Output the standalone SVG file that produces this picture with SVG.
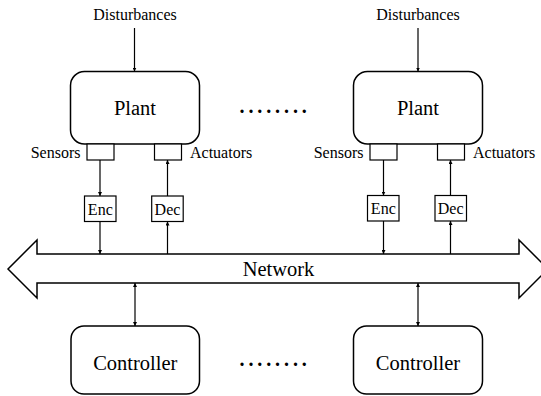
<svg xmlns="http://www.w3.org/2000/svg" width="541" height="396" viewBox="0 0 541 396" font-family="'Liberation Serif', 'Times New Roman', Times, serif">
<style>
text{font-family:"Liberation Serif","Times New Roman",Times,serif;fill:#000}
.big{font-size:20.5px;text-anchor:middle}
.lbl{font-size:16px}
.mid{text-anchor:middle}
.box{fill:#fff;stroke:#000;stroke-width:1.5}
.sm{fill:#fff;stroke:#000;stroke-width:1.2}
.conn line{stroke:#000;stroke-width:1.2}
.dots{font-size:20px;font-weight:bold;letter-spacing:3.9px}
</style>
<defs>
<marker id="ah" viewBox="0 0 8 8" refX="8" refY="4" markerWidth="4" markerHeight="4" orient="auto-start-reverse" markerUnits="userSpaceOnUse">
<path d="M0,0 L8,4 L0,8 Z" fill="#000"/>
</marker>
</defs>
<g id="network">
<path d="M8,269 L37,240 L37,254 L519,254 L519,240 L548,269 L519,298 L519,283 L37,283 L37,298 Z" fill="#fff" stroke="#000" stroke-width="1.5" stroke-linejoin="miter"/>
<text class="big" x="278.5" y="276">Network</text>
</g>
<g id="plant1">
<rect class="box" x="70.5" y="71.5" width="129" height="72.5" rx="14"/>
<text class="big" x="135" y="115">Plant</text>
</g>
<g id="plant2">
<rect class="box" x="353.5" y="71.5" width="129" height="72.5" rx="14"/>
<text class="big" x="418" y="115">Plant</text>
</g>
<g id="dist1"><text class="lbl mid" x="135" y="20">Disturbances</text></g>
<g id="dist2"><text class="lbl mid" x="418" y="20">Disturbances</text></g>
<g id="sensor1">
<rect class="sm" x="87" y="144" width="27" height="16"/>
<text class="lbl" x="80.5" y="158" text-anchor="end">Sensors</text>
</g>
<g id="actuator1">
<rect class="sm" x="154.5" y="144" width="27" height="16"/>
<text class="lbl" x="190" y="158">Actuators</text>
</g>
<g id="sensor2">
<rect class="sm" x="370" y="144" width="27" height="16"/>
<text class="lbl" x="363.5" y="158" text-anchor="end">Sensors</text>
</g>
<g id="actuator2">
<rect class="sm" x="437.5" y="144" width="27" height="16"/>
<text class="lbl" x="473" y="158">Actuators</text>
</g>
<g id="enc1">
<rect class="sm" x="84.5" y="196" width="31.5" height="25.5"/>
<text class="lbl mid" x="100.3" y="214.5">Enc</text>
</g>
<g id="dec1">
<rect class="sm" x="151.7" y="196" width="31.5" height="25.5"/>
<text class="lbl mid" x="167.5" y="214.5">Dec</text>
</g>
<g id="enc2">
<rect class="sm" x="367.5" y="195.5" width="31.5" height="25.5"/>
<text class="lbl mid" x="383.3" y="214">Enc</text>
</g>
<g id="dec2">
<rect class="sm" x="435" y="195.5" width="31.5" height="25.5"/>
<text class="lbl mid" x="450.7" y="214">Dec</text>
</g>
<g id="controller1">
<rect class="box" x="71" y="326" width="128.5" height="68" rx="13"/>
<text class="big" x="135.3" y="369.5">Controller</text>
</g>
<g id="controller2">
<rect class="box" x="353.5" y="326" width="129" height="68" rx="13"/>
<text class="big" x="418" y="369.5">Controller</text>
</g>
<g id="ellipsis">
<text class="dots" x="239.5" y="113">........</text>
<text class="dots" x="239.5" y="366">........</text>
</g>
<g class="conn" id="connectors">
<line x1="134.5" y1="28" x2="134.5" y2="71.5" marker-end="url(#ah)"/>
<line x1="418" y1="28" x2="418" y2="71.5" marker-end="url(#ah)"/>
<line x1="100" y1="160" x2="100" y2="196" marker-end="url(#ah)"/>
<line x1="167.5" y1="196" x2="167.5" y2="160" marker-end="url(#ah)"/>
<line x1="383.5" y1="160" x2="383.5" y2="195.5" marker-end="url(#ah)"/>
<line x1="450.5" y1="195.5" x2="450.5" y2="160" marker-end="url(#ah)"/>
<line x1="100" y1="221.5" x2="100" y2="254" marker-end="url(#ah)"/>
<line x1="167.5" y1="254" x2="167.5" y2="221.5" marker-end="url(#ah)"/>
<line x1="383.5" y1="221" x2="383.5" y2="254" marker-end="url(#ah)"/>
<line x1="450.5" y1="254" x2="450.5" y2="221" marker-end="url(#ah)"/>
<line x1="135" y1="283" x2="135" y2="326" marker-start="url(#ah)" marker-end="url(#ah)"/>
<line x1="418" y1="283" x2="418" y2="326" marker-start="url(#ah)" marker-end="url(#ah)"/>
</g>
</svg>
